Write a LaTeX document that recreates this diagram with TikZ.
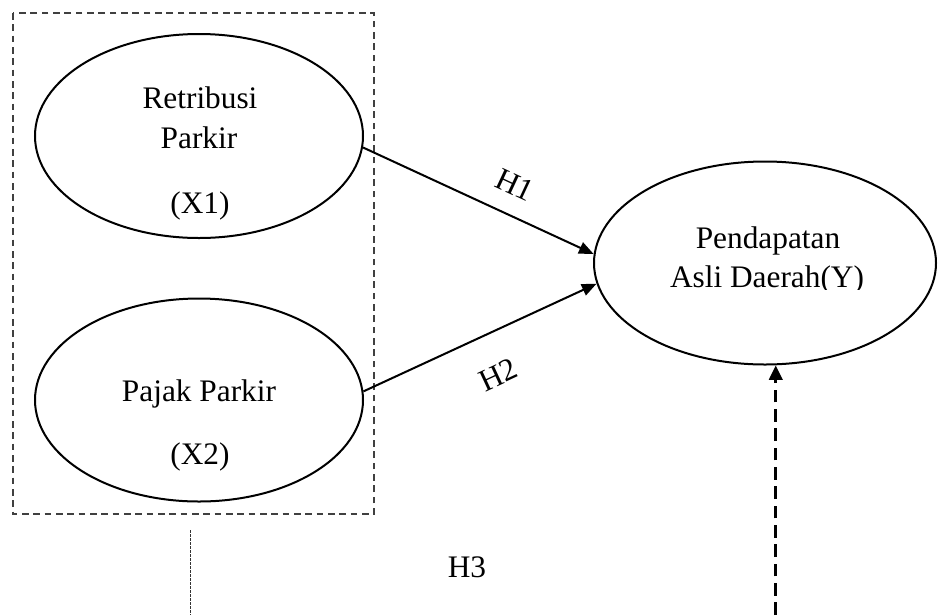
\documentclass[tikz,border=0pt]{standalone}
\usepackage{fontspec}
\setmainfont{Liberation Serif}
\usetikzlibrary{arrows.meta,shapes.geometric}
\begin{document}
\begin{tikzpicture}[x=0.75pt,y=-0.75pt,
  every node/.style={font=\fontsize{23.5}{28}\selectfont},
  var/.style={draw,ellipse,line width=1.5pt,inner sep=0pt},
  lbl/.style={anchor=base,inner sep=0pt},
  hyp/.style={draw,line width=1.5pt,-{Triangle[length=11pt,width=9pt]}},
  grp/.style={draw=black!75,line width=0.9pt,dash pattern=on 5pt off 3.5pt},
  thin dots/.style={draw=black!80,line width=0.6pt,dash pattern=on 2pt off 1pt},
  mod/.style={draw,line width=2.2pt,dash pattern=on 9.5pt off 5pt,-{Triangle[length=11pt,width=10pt]}}
  ]
\useasboundingbox (0,0) rectangle (938,615);
% group box
\draw[grp] (13,13) rectangle (374,514);
% ellipses
\node[var,minimum width=246pt,minimum height=153pt] (e1) at (199,136) {};
\node[var,minimum width=246pt,minimum height=152.25pt] (e2) at (199,400) {};
\node[var,minimum width=256.5pt,minimum height=152.25pt] (e3) at (765,263) {};
% texts
\node[lbl] (t1a) at (200,108) {Retribusi};
\node[lbl] (t1b) at (199,148) {Parkir};
\node[lbl] (t1c) at (200,213) {(X1)};
\node[lbl] (t2a) at (199,401) {Pajak Parkir};
\node[lbl] (t2b) at (200,464) {(X2)};
\node[lbl] (t3a) at (768,248) {Pendapatan};
\begin{scope}
\clip (590,200) rectangle (940,289);
\node[lbl] (t3b) at (767,287) {Asli Daerah(Y)};
\end{scope}
% hypotheses
\draw[hyp] (e1.-4) -- (e3.177);
\draw[hyp] (e2.3) -- (e3.187);
\node[rotate=-25] (h1) at (515,185) {H1};
\node[rotate=25] (h2) at (498,375) {H2};
\node (h3) at (467,567) {H3};
% H3 lines
\coordinate (d1) at (190,530);
\coordinate (d2) at (190,615);
\draw[thin dots] (d1) -- (d2);
\coordinate (bot) at (0,615);
\coordinate (m1) at (e3.-84 |- bot);
\draw[mod] (m1) -- (e3.-84);
\end{tikzpicture}
\end{document}
